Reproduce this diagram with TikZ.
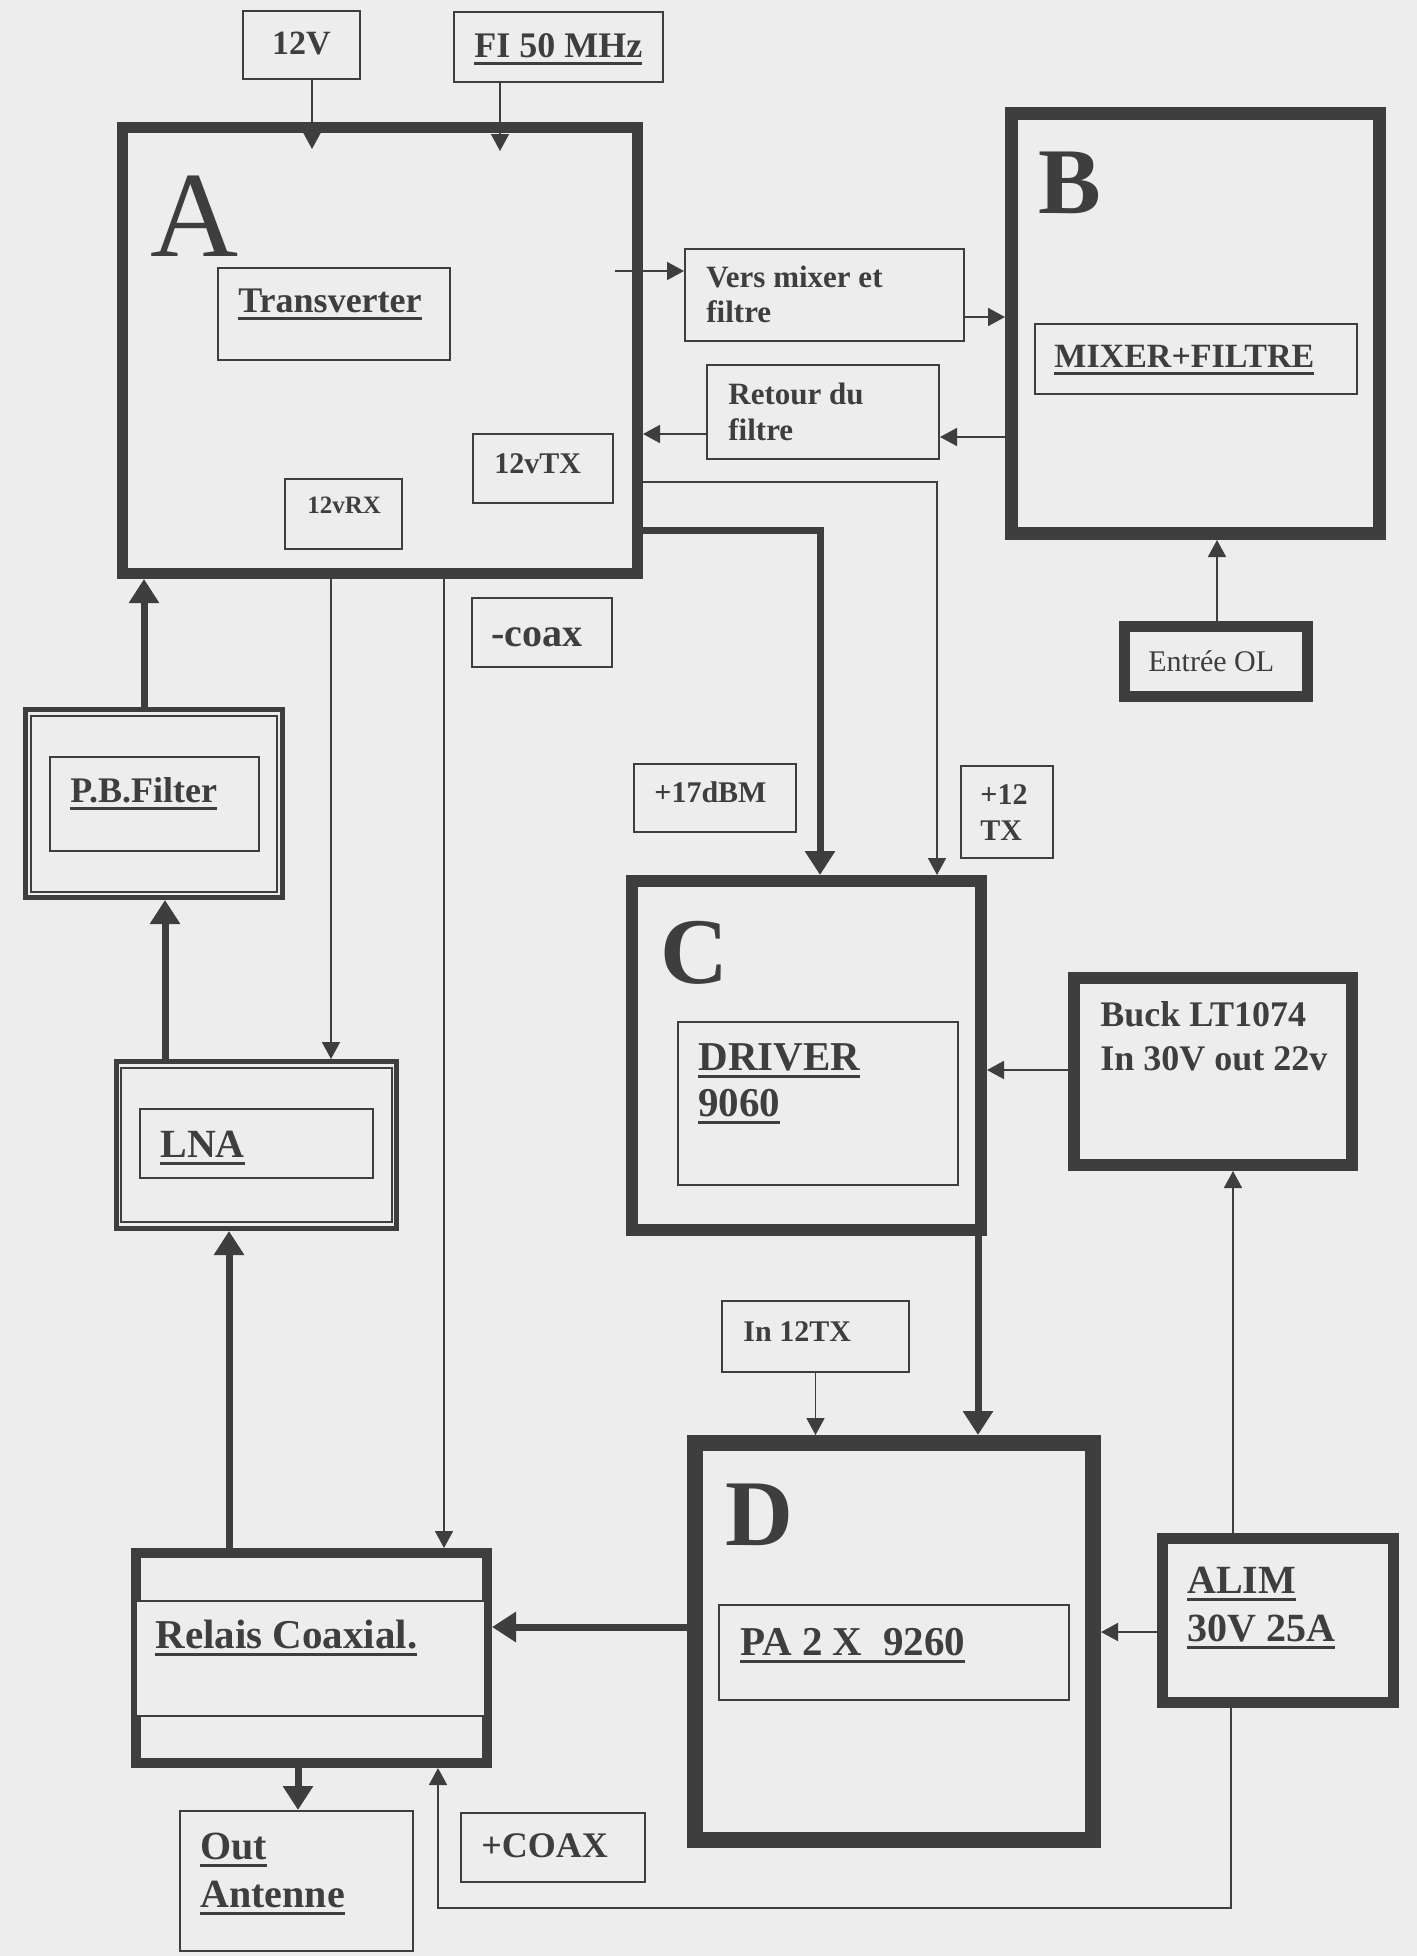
\documentclass[tikz,border=0pt]{standalone}
\usepackage{fontspec}
\setmainfont{Liberation Serif}
\usetikzlibrary{arrows.meta,calc}
\definecolor{ink}{RGB}{62,62,62}
\definecolor{paper}{RGB}{237,237,237}
\newsavebox\ulbox
\newcommand\myul[1]{\sbox\ulbox{#1}\rlap{\vrule height -2.25pt depth 3.75pt width \wd\ulbox}\usebox\ulbox}
\newcommand\twol[3]{\vtop{\baselineskip=#1\lineskiplimit=-20pt\hbox{#2}\hbox{#3}}}
\begin{document}
\begin{tikzpicture}[x=0.5pt,y=-0.5pt,
  thinbox/.style={draw=ink, line width=1pt, inner sep=0pt},
  fatbox/.style={draw=ink, line width=#1, inner sep=0pt},
  sz/.style 2 args={minimum width=#1*0.5pt, minimum height=#2*0.5pt},
  lbl/.style={text=ink, inner sep=0pt, anchor=base west},
  ta/.style={draw=ink, line width=0.9pt, -{Triangle[length=8.5pt,width=9pt]}},
  tk/.style={draw=ink, line width=3.5pt, line join=miter, -{Triangle[length=12pt,width=14.5pt]}},
  tl/.style={draw=ink, line width=0.9pt},
  f/.style={font=\fontsize{#1}{#1}\selectfont\bfseries}
]
\useasboundingbox (0,0) rectangle (1417,1956);
\fill[paper] (0,0) rectangle (1417,1956);

% ---- thick blocks
\node[fatbox=5.5pt, sz={515}{446}] (A) at (380,350.5) {};
\node[fatbox=6.5pt, sz={368}{420}] (B) at (1195.5,323.5) {};
\node[fatbox=6pt, sz={349}{349}] (C) at (806.5,1055.5) {};
\node[fatbox=8pt, sz={398}{397}] (D) at (894,1641.5) {};
\node[fatbox=5.5pt, sz={231}{164}] (alim) at (1278,1620.5) {};
\node[fatbox=6pt, sz={278}{187}] (buck) at (1213,1071.5) {};
\node[fatbox=5.5pt, sz={183}{70}] (ol) at (1216,661.5) {};
\node[fatbox=5pt, sz={351}{210}] (relais) at (311.5,1658) {};
\node[thinbox, fill=paper, sz={349}{115}] (relmid) at (310.5,1658.5) {};
\node[fatbox=2.5pt, sz={257}{188}] (pb) at (154,803.5) {};
\node[thinbox, line width=0.8pt, sz={246}{176}] (pbdbl) at (154,804) {};
\node[fatbox=2.5pt, sz={280}{167}] (lna) at (256.5,1145) {};
\node[thinbox, line width=0.8pt, sz={271}{154}] (lnadbl) at (256.5,1145) {};

% ---- thin boxes
\node[thinbox, sz={117}{68}] (v12) at (301.5,45) {};
\node[thinbox, sz={209}{70}] (fi) at (558.5,47) {};
\node[thinbox, sz={232}{92}] (trans) at (334,314) {};
\node[thinbox, sz={140}{69}] (tx) at (543,468.5) {};
\node[thinbox, sz={117}{70}] (rx) at (343.5,514) {};
\node[thinbox, sz={279}{92}] (vers) at (824.5,295) {};
\node[thinbox, sz={232}{94}] (ret) at (823,412) {};
\node[thinbox, sz={322}{70}] (mix) at (1196,359) {};
\node[thinbox, sz={140}{69}] (coax) at (542,632.5) {};
\node[thinbox, sz={162}{68}] (dbm) at (715,798) {};
\node[thinbox, sz={92}{92}] (p12) at (1007,812) {};
\node[thinbox, sz={280}{163}] (drv) at (818,1103.5) {};
\node[thinbox, sz={187}{71}] (in12) at (815.5,1336.5) {};
\node[thinbox, sz={350}{95}] (pa) at (894,1652.5) {};
\node[thinbox, sz={233}{140}] (out) at (296.5,1881) {};
\node[thinbox, sz={184}{69}] (pcoax) at (553,1847.5) {};
\node[thinbox, sz={209}{94}] (pbin) at (154.5,804) {};
\node[thinbox, sz={233}{69}] (lnain) at (256.5,1143.5) {};

% ---- labels
\node[lbl, font=\fontsize{61}{61}\selectfont] (tA) at (150,256) {A};
\node[lbl, f=47] (tB) at (1038,213) {B};
\node[lbl, f=47] (tC) at (660,983) {C};
\node[lbl, f=47] (tD) at (725,1545) {D};
\node[text=ink, inner sep=0pt, anchor=base, f=17] (t12v) at (301.5,54) {12V};
\node[lbl, f=18] (tfi) at (474,57) {\myul{FI 50 MHz}};
\node[lbl, f=18] (ttrans) at (238,312) {\myul{Transverter}};
\node[lbl, f=15] (ttx) at (494,473) {12vTX};
\node[lbl, f=12.5] (trx) at (307,513) {12vRX};
\node[lbl, f=15.5] (tvers) at (706,287) {\twol{17.5pt}{Vers mixer et}{filtre}};
\node[lbl, f=15.5] (tret) at (728,404) {\twol{18pt}{Retour du}{filtre}};
\node[lbl, f=17] (tmix) at (1054,367) {\myul{MIXER+FILTRE}};
\node[lbl, font=\fontsize{15}{15}\selectfont] (tol) at (1148,671) {Entrée OL};
\node[lbl, f=20] (tcoax) at (491,646) {-coax};
\node[lbl, f=18] (tpb) at (70,802) {\myul{P.B.Filter}};
\node[lbl, f=20] (tlna) at (160,1157) {\myul{LNA}};
\node[lbl, f=15] (tdbm) at (654,802) {+17dBM};
\node[lbl, f=15] (tp12) at (980,804) {\twol{18pt}{+12}{TX}};
\node[lbl, f=20.5] (tdrv) at (698,1070) {\twol{23pt}{\myul{DRIVER}}{\myul{9060}}};
\node[lbl, f=18] (tbuck) at (1100,1026) {\twol{22pt}{Buck LT1074}{In 30V out 22v}};
\node[lbl, f=15] (tin12) at (743,1341) {In 12TX};
\node[lbl, f=20.5] (trel) at (155,1648) {\myul{Relais Coaxial.}};
\node[lbl, f=20.5] (tpa) at (740,1655) {\myul{PA 2 X\ \ 9260}};
\node[lbl, f=20] (talim) at (1187,1593) {\twol{24pt}{\myul{ALIM}}{\myul{30V 25A}}};
\node[lbl, f=20] (tout) at (200,1859) {\twol{24pt}{\myul{Out}}{\myul{Antenne}}};
\node[lbl, f=18] (tpcoax) at (481,1857) {+COAX};

% ---- connectors
\draw[ta] ($(v12.south)+(10.5,0)$) -- ($(A.north)+(-68,27)$);
\draw[ta] ($(fi.south)+(-58.5,0)$) -- ($(A.north)+(120,29)$);
\draw[ta] ($(A.east)+(-28,-79.5)$) -- ($(vers.west)+(0,-24)$);
\draw[ta] ($(vers.east)+(0,22)$) -- ($(B.west)+(0,-6.5)$);
\draw[ta] ($(B.west)+(0,113.5)$) -- ($(ret.east)+(0,25)$);
\draw[ta] ($(ret.west)+(0,22)$) -- ($(A.east)+(0,83.5)$);
\draw[ta] ($(ol.north)+(1,0)$) -- ($(B.south)+(21.5,0)$);
\draw[ta] ($(A.east)+(0,131.5)$) -| ($(C.north)+(130.5,0)$);
\draw[tk] ($(A.east)+(0,179.5)$) -| ($(C.north)+(13.5,0)$);
\draw[ta] ($(buck.west)+(0,-1.5)$) -- ($(C.east)+(0,14.5)$);
\draw[ta] ($(alim.north)+(-45,0)$) -- ($(buck.south)+(20,0)$);
\draw[ta] ($(alim.west)+(0,11.5)$) -- ($(D.east)+(0,-9.5)$);
\draw[ta] (in12.south) -- ($(D.north)+(-78.5,0)$);
\draw[tk] ($(C.south)+(171.5,0)$) -- ($(D.north)+(84,0)$);
\draw[tk] ($(D.west)+(0,-14.5)$) -- ($(relais.east)+(0,-31)$);
\draw[tk] ($(relais.south)+(-13.5,0)$) -- ($(out.north)+(1.5,0)$);
\coordinate (retc) at (438,1908);
\draw[ta] ($(alim.south)+(-47,0)$) |- (retc) -- ($(relais.south)+(126.5,0)$);
\draw[ta] ($(A.south)+(-49,0)$) -- ($(lna.north)+(74.5,0)$);
\draw[ta] ($(A.south)+(64,0)$) -- ($(relais.north)+(132.5,0)$);
\draw[tk] ($(lna.north)+(-91.5,0)$) -- ($(pb.south)+(11,0)$);
\draw[tk] ($(pb.north)+(-10,0)$) -- ($(A.south)+(-236,0)$);
\draw[tk] ($(relais.north)+(-82.5,0)$) -- ($(lna.south)+(-27.5,0)$);
\end{tikzpicture}
\end{document}
